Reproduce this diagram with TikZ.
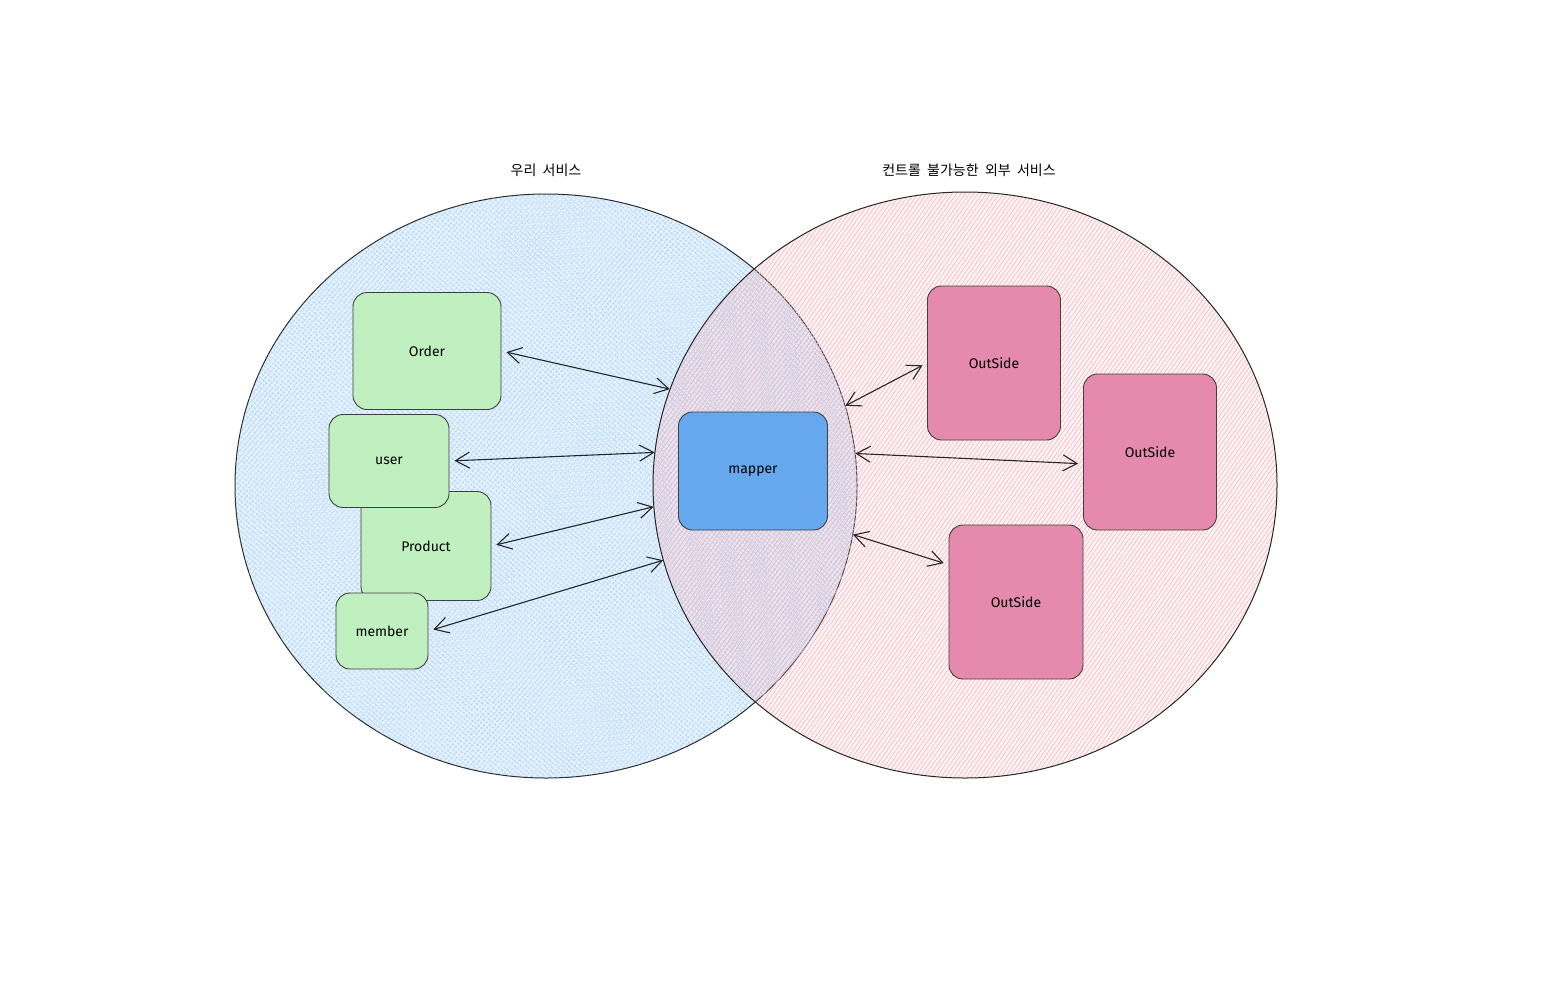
\documentclass[tikz,border=0pt]{standalone}
\usepackage{fontspec}
\setmainfont{Fira Sans}
\newfontfamily\kofont{Noto Sans CJK KR}
\usetikzlibrary{shapes.geometric,patterns.meta,arrows.meta}

\definecolor{ourblue}{HTML}{8EC4F6}
\definecolor{theirpink}{HTML}{F4B6BE}
\definecolor{innergreen}{HTML}{C0F0C0}
\definecolor{mapblue}{HTML}{66A8EE}
\definecolor{outpink}{HTML}{E68AAD}

\tikzset{
  area/.style={ellipse, inner sep=0pt, draw=black!85, line width=1pt},
  box/.style={draw=black!75, rounded corners=14pt, line width=0.9pt, inner sep=0pt,
    font=\fontsize{14}{16}\selectfont},
  greenbox/.style={box, fill=innergreen},
  outbox/.style={box, fill=outpink, minimum width=133pt, minimum height=154pt},
  link/.style={draw=black!85, line width=1.1pt, <->, shorten <=5pt},
  title/.style={font=\kofont\fontsize{14}{16}\selectfont},
  >={Straight Barb[length=14pt,width=16pt]},
}

\begin{document}
\begin{tikzpicture}[x=1pt,y=-1pt]
    \useasboundingbox (0,0) rectangle (1568,980);

    % Service areas
    \node[area, minimum width=622pt, minimum height=584pt,
      preaction={fill=ourblue, fill opacity=0.22},
      pattern={Lines[angle=50,distance=4pt,line width=0.6pt]}, pattern color=ourblue,
      postaction={pattern={Lines[angle=-40,distance=4pt,line width=0.6pt]}, pattern color=ourblue}]
      (ours) at (546,486) {};
    \node[area, minimum width=624pt, minimum height=586pt,
      preaction={fill=theirpink, fill opacity=0.18},
      pattern={Lines[angle=55,distance=3.5pt,line width=0.6pt]}, pattern color=theirpink]
      (theirs) at (965,485) {};

    % Area titles
    \node[title] (ourtitle) at (546,170) {우리\hspace{0.45em}서비스};
    \node[title] (theirtitle) at (969,170) {컨트롤\hspace{0.45em}불가능한\hspace{0.45em}외부\hspace{0.45em}서비스};

    % Our domain boxes
    \node[greenbox, minimum width=148pt, minimum height=117pt] (order) at (427,351) {Order};
    \node[greenbox, minimum width=130pt, minimum height=109pt] (product) at (426,546) {Product};
    \node[greenbox, minimum width=120pt, minimum height=93pt] (user) at (389,461) {user};
    \node[greenbox, minimum width=92pt, minimum height=76pt] (member) at (382,631) {member};

    % Mapper
    \node[box, fill=mapblue, minimum width=149pt, minimum height=118pt] (mapper) at (753,471) {mapper};

    % Outside boxes
    \node[outbox] (out1) at (994,363) {OutSide};
    \node[outbox, minimum height=156pt] (out2) at (1150,452) {OutSide};
    \node[outbox, minimum width=134pt] (out3) at (1016,602) {OutSide};

    % Links -- left side
    \draw[link] (order.east) -- (theirs.162);
    \draw[link] (user.east) -- (theirs.174);
    \draw[link] (product.east) -- (theirs.184);
    \draw[link] (member.east) -- (theirs.194.5);

    % -- right side
    \draw[link] (out1.west) -- (ours.15);
    \draw[link] (out2.190) -- (ours.6);
    \draw[link] (out3.151) -- (ours.-9.5);
\end{tikzpicture}
\end{document}
